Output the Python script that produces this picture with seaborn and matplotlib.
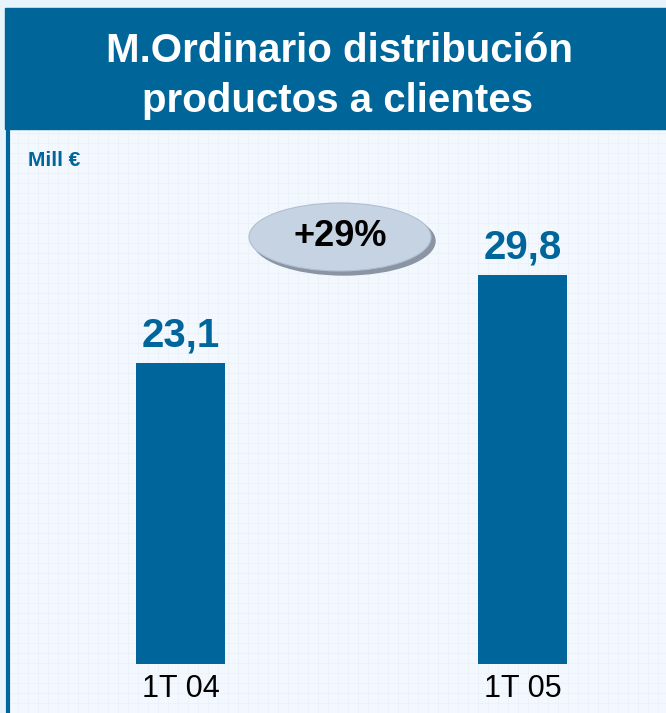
import matplotlib
matplotlib.use("Agg")
import matplotlib.pyplot as plt
import seaborn as sns
import pandas as pd
from matplotlib.patches import Ellipse, Rectangle
from matplotlib.ticker import MultipleLocator

# Data
periods = ["1T 04", "1T 05"]
values = [23.1, 29.8]
value_labels = ["23,1", "29,8"]
growth_label = "+29%"
title_lines = ["M.Ordinario distribución", "productos a clientes"]
unit_label = "Mill €"

BLUE = "#00659a"
W, H = 666, 713

sns.set_theme(style="white")
plt.rcParams["font.family"] = ["Liberation Sans", "DejaVu Sans"]

fig = plt.figure(figsize=(W / 100, H / 100), dpi=100)
fig.patch.set_facecolor("#e8f4fc")

panel_top = 128
# background panel with fine grid
bg = fig.add_axes([8 / W, 0, (W - 8) / W, (H - panel_top) / H])
bg.set_facecolor("#f2f8fd")
bg.set_xlim(0, W - 8)
bg.set_ylim(0, H - panel_top)
bg.xaxis.set_major_locator(MultipleLocator(10))
bg.yaxis.set_major_locator(MultipleLocator(10))
bg.grid(True, color="#e8f0f8", lw=0.5)
bg.tick_params(left=False, bottom=False, labelleft=False, labelbottom=False)
for side in ["top", "right", "bottom"]:
    bg.spines[side].set_visible(False)
bg.spines["left"].set_color(BLUE)
bg.spines["left"].set_linewidth(3)

# title banner
fig.patches.append(Rectangle((5 / W, (H - 129) / H), 1 - 5 / W, 121 / H,
                             transform=fig.transFigure, color="#006699", zorder=0))
fig.text(339 / W, 1 - 62 / H, title_lines[0], color="white", fontsize=29,
         fontweight="bold", ha="center", va="baseline")
fig.text(338 / W, 1 - 112 / H, title_lines[1], color="white", fontsize=29,
         fontweight="bold", ha="center", va="baseline")
fig.text(28 / W, 1 - 161 / H, unit_label, color=BLUE, fontsize=15,
         fontweight="bold", ha="left", va="center")

# bars
ax = fig.add_axes([8 / W, 0, (W - 8) / W, (H - panel_top) / H])
ax.patch.set_alpha(0)
df = pd.DataFrame({"periodo": periods, "valor": values})
sns.barplot(data=df, x="periodo", y="valor", color=BLUE, saturation=1,
            width=0.263, linewidth=0, ax=ax)
scale = 13.05
ax.set_xlim((8 - 180.5) / 342, (W - 180.5) / 342)
ax.set_ylim(-(H - 664) / scale, (664 - panel_top) / scale)
ax.axis("off")

for i, (v, lab) in enumerate(zip(values, value_labels)):
    ax.annotate(lab, (i, v), xytext=(0, 6), textcoords="offset points",
                ha="center", va="bottom", fontsize=29, fontweight="bold",
                color=BLUE)
    ax.annotate(periods[i], (i, 0), xytext=(0, -7), textcoords="offset points",
                ha="center", va="top", fontsize=22, color="black")

# growth bubble
cx, cy = 340 / W, 1 - 237 / H
shadow = Ellipse((cx + 4 / W, cy - 4 / H), 182 / W, 68 / H,
                 transform=fig.transFigure, color="#8a94a3", zorder=5)
bubble = Ellipse((cx, cy), 182 / W, 68 / H, transform=fig.transFigure,
                 facecolor="#c6d3e3", edgecolor="#b0bfd2", lw=0.8, zorder=6)
fig.patches.extend([shadow, bubble])
fig.text(cx, cy, growth_label, fontsize=26, fontweight="bold", color="black",
         ha="center", va="center", zorder=7)

fig.savefig("out.png", dpi=100, facecolor=fig.get_facecolor())
